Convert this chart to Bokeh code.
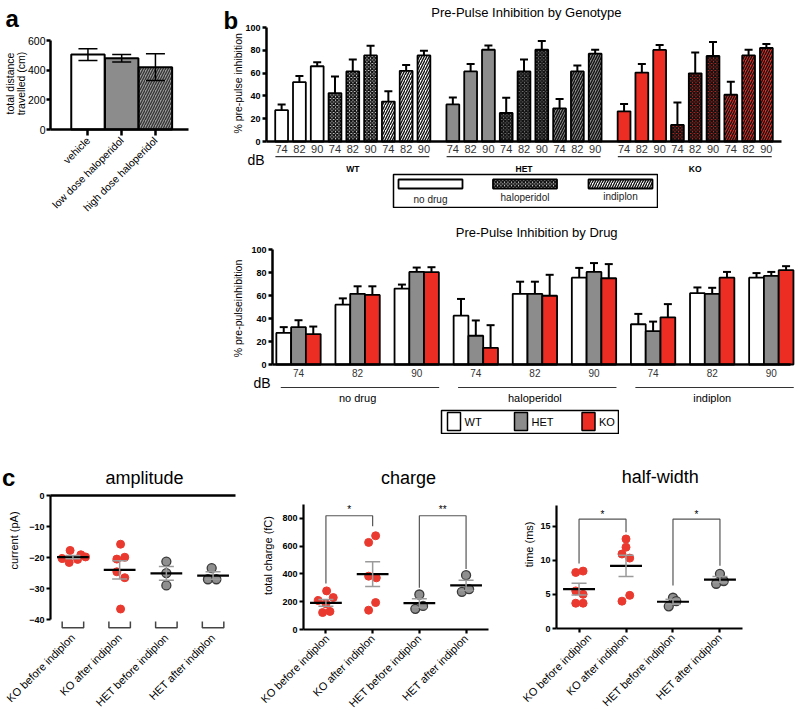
import numpy as np
from math import pi
from bokeh.plotting import figure
from bokeh.layouts import column, row
from bokeh.models import (Range1d, FixedTicker, Whisker, TeeHead, Label,
                          ColumnDataSource, Spacer)
from bokeh.core.properties import value
from bokeh.embed import file_html
from bokeh.resources import INLINE

FONT = "Liberation Sans"
RED = "#ec2d24"
GREY = "#8c8c8c"
DOT_RED = "#ea3a2f"
DOT_GREY = "#8f8f8f"

# ---------------- data ----------------
# panel a
a_groups = ["vehicle", "low dose haloperidol", "high dose haloperidol"]
a_mean = [505, 480, 420]
a_sem = [40, 25, 90]

# panel b (order: drug-major, dB-minor)
genotypes = ["WT", "HET", "KO"]
drugs = ["no drug", "haloperidol", "indiplon"]
db_levels = ["74", "82", "90"]
ppi_wt = [27.5, 52, 66, 42.5, 61.5, 75.5, 35, 62, 75.5]
ppi_wt_err = [5, 5.5, 3.5, 14.5, 10.5, 8.5, 9, 5, 4]
ppi_het = [32.5, 61.5, 80.5, 25, 61.5, 80.5, 29, 61.5, 77]
ppi_het_err = [6, 6.5, 3.8, 13.3, 10.5, 7.7, 8.3, 5.2, 3.5]
ppi_ko = [26.5, 60.5, 80.3, 14.5, 59.8, 75, 41, 75.5, 82]
ppi_ko_err = [6.5, 7.5, 4.3, 19.7, 18.2, 12.3, 11.5, 5, 3.5]

# panel c
c_groups = ["KO before indiplon", "KO after indiplon", "HET before indiplon", "HET after indiplon"]
amp_ko_before = [-17.7, -20.3, -21.6, -20.6, -19.1, -19.8]
amp_ko_after = [-15.7, -20.5, -19.9, -24.6, -26.5, -36.6]
amp_het_before = [-21.3, -25.0, -29.0]
amp_het_after = [-23.4, -27.0, -27.0]
charge_ko_before = [278, 209, 230, 185, 122, 130]
charge_ko_after = [675, 627, 384, 372, 194, 139]
charge_het_before = [252, 149, 170]
charge_het_after = [391, 271, 290]
hw_ko_before = [8.2, 8.4, 5.5, 5.0, 3.7, 3.7]
hw_ko_after = [13.1, 11.9, 10.9, 10.3, 4.85, 4.0]
hw_het_before = [4.5, 3.25, 4.0]
hw_het_after = [8.0, 6.55, 6.95]
# significance brackets: (left group, right group, top level, left end, right end, stars)
charge_sig = [(0, 1, 819, 331, 744, "*"), (2, 3, 819, 300, 435, "**")]
hw_sig = [(0, 1, 16.0, 9.5, 14.1, "*"), (2, 3, 16.0, 6.3, 9.2, "*")]

# point jitter (category units)
amp_jit = [[-0.06, -0.23, -0.08, 0.10, 0.17, 0.27], [0.02, -0.06, 0.11, -0.06, 0.11, 0.02],
           [0, 0, 0], [-0.03, -0.11, 0.07]]
charge_jit = [[0.015, -0.165, 0.157, 0, -0.071, 0.086], [0.064, -0.086, -0.086, 0.079, 0.064, -0.086],
              [0, -0.086, 0.079], [0, -0.09, 0.065]]
hw_jit = [[-0.07, 0.086, -0.07, 0.086, -0.07, 0.086], [0, 0, -0.086, 0.079, 0.079, -0.086],
          [0, -0.09, 0.07], [0, -0.08, 0.08]]


# ---------------- helpers ----------------
def mkfig(w, h, l, r, t, b, xr, yr):
    """Figure whose plotting frame fills the canvas; (xr, yr) map to the inner box
    inset by l, r, t, b pixels, the axes are fixed at the inner box edges."""
    sx = (w - l - r) / (xr[1] - xr[0])
    sy = (h - t - b) / (yr[1] - yr[0])
    p = figure(width=w, height=h,
               x_range=Range1d(xr[0] - l / sx, xr[1] + r / sx),
               y_range=Range1d(yr[0] - b / sy, yr[1] + t / sy),
               output_backend="svg", toolbar_location=None, tools="")
    p.min_border_left = p.min_border_right = 0
    p.min_border_top = p.min_border_bottom = 0
    p.grid.visible = False
    p.outline_line_color = None
    p.xaxis.fixed_location = yr[0]
    p.xaxis.bounds = xr
    p.yaxis.fixed_location = xr[0]
    p.yaxis.bounds = yr
    return p


def style_ax(ax, lw=2, tick_out=4, size="9px", bold=False, standoff=2):
    ax.axis_line_width = lw
    ax.axis_line_color = "black"
    ax.major_tick_line_width = lw
    ax.major_tick_line_color = "black"
    ax.major_tick_out = tick_out
    ax.major_tick_in = 0
    ax.minor_tick_line_color = None
    ax.major_label_text_font = FONT
    ax.major_label_text_font_size = size
    ax.major_label_text_font_style = "bold" if bold else "normal"
    ax.major_label_text_color = "black"
    ax.major_label_standoff = standoff


def add_label(p, x, y, text, size, bold=False, align="center", baseline="middle", angle=0.0,
              color="black"):
    p.add_layout(Label(x=x, y=y, text=text, text_font=FONT, text_font_size=size,
                       text_font_style="bold" if bold else "normal", text_align=align,
                       text_baseline=baseline, angle=angle, text_color=color))


# ---------------- panel a ----------------
pa = mkfig(195, 212, 50, 7, 40, 83, (-1.11, 2.98), (0, 600))
a_x = list(range(len(a_groups)))
pa.vbar(x=a_x[:2], top=a_mean[:2], width=0.99, fill_color=["white", GREY],
        line_color="black", line_width=2)
pa.vbar(x=a_x[2:], top=a_mean[2:], width=0.99, fill_color="#9a9a9a", line_color="black",
        line_width=2, hatch_pattern="right_diagonal_line", hatch_color="#333333",
        hatch_scale=5, hatch_weight=1.3)
a_src = ColumnDataSource(dict(x=a_x, lo=[m - s for m, s in zip(a_mean, a_sem)],
                              hi=[m + s for m, s in zip(a_mean, a_sem)]))
pa.add_layout(Whisker(source=a_src, base="x", lower="lo", upper="hi", line_width=1.5,
                      upper_head=TeeHead(size=19, line_width=1.5),
                      lower_head=TeeHead(size=19, line_width=1.5), level="overlay"))
style_ax(pa.xaxis[0], lw=2.5, tick_out=6, size="10.5px", standoff=3)
pa.xaxis.ticker = FixedTicker(ticks=a_x)
pa.xaxis.major_label_overrides = {i: g for i, g in zip(a_x, a_groups)}
pa.xaxis.major_label_orientation = pi / 4
style_ax(pa.yaxis[0], lw=2.5, tick_out=4, size="10.5px", standoff=1)
pa.yaxis.ticker = FixedTicker(ticks=[0, 200, 400, 600])
add_label(pa, -2.3, 310, "total distance", "10.5px", angle=pi / 2)
add_label(pa, -1.97, 310, "travelled (cm)", "10.5px", angle=pi / 2)
add_label(pa, -2.44, 748, "a", "24px", bold=True, align="left", baseline="alphabetic")

# ---------------- panel b top: by genotype ----------------
GAP = 9.625
g_fill = ["white", GREY, RED]
d_hatch = [None, "diagonal_cross", "right_diagonal_line"]
g_means = [ppi_wt, ppi_het, ppi_ko]
g_errs = [ppi_wt_err, ppi_het_err, ppi_ko_err]


def hatch_kw(di):
    if not d_hatch[di]:
        return {}
    if di == 1:
        return dict(hatch_pattern=d_hatch[di], hatch_color="#111111", hatch_scale=3.5,
                    hatch_weight=1.6)
    return dict(hatch_pattern=d_hatch[di], hatch_color="#111111", hatch_scale=5,
                hatch_weight=1.4)


pbt = mkfig(605, 173, 71, 19, 27, 32, (-0.85, 28.1), (0, 100))
tick_pos, tick_txt = [], {}
wx, wlo, whi = [], [], []
for gi in range(3):
    for di in range(3):
        xs = [gi * GAP + di * 3 + k for k in range(3)]
        vals = g_means[gi][di * 3:(di + 1) * 3]
        errs = g_errs[gi][di * 3:(di + 1) * 3]
        pbt.vbar(x=xs, top=vals, width=0.72, fill_color=g_fill[gi], line_color="black",
                 line_width=1.8, **hatch_kw(di))
        for x, v, e, lbl in zip(xs, vals, errs, db_levels):
            tick_pos.append(x)
            tick_txt[x] = lbl
            wx.append(x); wlo.append(v); whi.append(v + e)
bt_src = ColumnDataSource(dict(x=wx, lo=wlo, hi=whi))
pbt.add_layout(Whisker(source=bt_src, base="x", lower="lo", upper="hi", line_width=2,
                       upper_head=TeeHead(size=8, line_width=2), lower_head=None))
style_ax(pbt.xaxis[0], lw=2.5, tick_out=0, size="11px", standoff=3)
pbt.xaxis.ticker = FixedTicker(ticks=tick_pos)
pbt.xaxis.major_label_overrides = tick_txt
pbt.xaxis.major_label_text_color = "#333333"
style_ax(pbt.yaxis[0], lw=2.5, tick_out=4, size="9px", bold=True, standoff=2)
pbt.yaxis.ticker = FixedTicker(ticks=[0, 20, 40, 60, 80, 100])
add_label(pbt, -2.48, 51, "% pre-pulse inhibition", "10.5px", angle=pi / 2)
pbt.segment(x0=[gi * GAP - 0.35 for gi in range(3)], x1=[gi * GAP + 8.3 for gi in range(3)],
            y0=[-13.2] * 3, y1=[-13.2] * 3, line_color="#333333", line_width=1.2)
pbt.text(x=[gi * GAP + 4 for gi in range(3)], y=[-23.7] * 3, text=genotypes,
         text_font=value(FONT), text_font_size="8.5px", text_font_style="bold",
         text_align="center", text_baseline="middle")
add_label(pbt, -1.92, -15.8, "dB", "14px", align="left", baseline="alphabetic")
add_label(pbt, 13.76, 113, "Pre-Pulse Inhibition by Genotype", "13px")
add_label(pbt, -3.27, 106, "b", "24px", bold=True, align="left", baseline="alphabetic")

# legend 1 (drug)
leg1 = figure(width=266, height=35, x_range=Range1d(0, 264), y_range=Range1d(0, 33),
              output_backend="svg", toolbar_location=None, tools="")
leg1.min_border_left = leg1.min_border_right = leg1.min_border_top = leg1.min_border_bottom = 1
leg1.grid.visible = False
leg1.axis.visible = False
leg1.outline_line_color = "black"
leg1.outline_line_width = 1.5
sw_x = [37, 131.5, 227]
sw_ty = [8, 10, 11]
for di in range(3):
    leg1.rect(x=[sw_x[di]], y=[23.5], width=64, height=9, fill_color="white",
              line_color="black", line_width=1.8, **hatch_kw(di))
leg1.text(x=sw_x, y=sw_ty, text=drugs, text_font=value(FONT), text_font_size="10px",
          text_align="center", text_baseline="middle", text_color="#222222")

# ---------------- panel b bottom: by drug ----------------
pbb = mkfig(605, 194, 77, 10, 37, 42, (-0.44, 8.325), (0, 100))
bx, blo, bhi = [], [], []
for gi in range(3):
    xs = [k + (gi - 1) * 0.25 for k in range(9)]
    pbb.vbar(x=xs, top=g_means[gi], width=0.25, fill_color=g_fill[gi], line_color="black",
             line_width=1.8)
    bx += xs
    blo += g_means[gi]
    bhi += [m + e for m, e in zip(g_means[gi], g_errs[gi])]
bb_src = ColumnDataSource(dict(x=bx, lo=blo, hi=bhi))
pbb.add_layout(Whisker(source=bb_src, base="x", lower="lo", upper="hi", line_width=2,
                       upper_head=TeeHead(size=8, line_width=2), lower_head=None))
style_ax(pbb.xaxis[0], lw=2.5, tick_out=0, size="10px", standoff=4)
pbb.xaxis.ticker = FixedTicker(ticks=list(range(9)))
pbb.xaxis.major_label_overrides = {k: db_levels[k % 3] for k in range(9)}
pbb.xaxis.major_label_text_color = "#333333"
style_ax(pbb.yaxis[0], lw=2.5, tick_out=4, size="9px", bold=True, standoff=2)
pbb.yaxis.ticker = FixedTicker(ticks=[0, 20, 40, 60, 80, 100])
add_label(pbb, -1.032, 48.7, "% pre-pulseinhibition", "10.5px", angle=pi / 2)
pbb.segment(x0=[3 * di - 0.3 for di in range(3)], x1=[3 * di + 2.38 for di in range(3)],
            y0=[-20] * 3, y1=[-20] * 3, line_color="#333333", line_width=1.2)
pbb.text(x=[3 * di + 1 for di in range(3)], y=[-28.7] * 3, text=drugs,
         text_font=value(FONT), text_font_size="11px", text_align="center",
         text_baseline="middle")
add_label(pbb, -0.76, -15.7, "dB", "14px", align="left", baseline="alphabetic")
add_label(pbb, 4.03, 114.8, "Pre-Pulse Inhibition by Drug", "13px")

# legend 2 (genotype)
leg2 = figure(width=179, height=25, x_range=Range1d(0, 177), y_range=Range1d(0, 23),
              output_backend="svg", toolbar_location=None, tools="")
leg2.min_border_left = leg2.min_border_right = leg2.min_border_top = leg2.min_border_bottom = 1
leg2.grid.visible = False
leg2.axis.visible = False
leg2.outline_line_color = "black"
leg2.outline_line_width = 1.5
g_sw = [12.5, 79.5, 147]
leg2.rect(x=g_sw, y=[12] * 3, width=13, height=18, fill_color=g_fill, line_color="black",
          line_width=1.5)
leg2.text(x=[s + 10.5 for s in g_sw], y=[12] * 3, text=genotypes, text_font=value(FONT),
          text_font_size="11px", text_align="left", text_baseline="middle")


# ---------------- panel c ----------------
def dots(p, groups, jit):
    for i, (vals, jj) in enumerate(zip(groups, jit)):
        xs = [i + j for j in jj]
        if i < 2:
            p.scatter(x=xs, y=vals, size=8, fill_color=DOT_RED, line_color=DOT_RED)
        else:
            p.scatter(x=xs, y=vals, size=9, fill_color=DOT_GREY, line_color="#3a3a3a",
                      line_width=1.3)
    means = [float(np.mean(v)) for v in groups]
    sems = [float(np.std(v, ddof=1) / np.sqrt(len(v))) for v in groups]
    xs = list(range(len(groups)))
    src = ColumnDataSource(dict(x=xs, lo=[m - s for m, s in zip(means, sems)],
                                hi=[m + s for m, s in zip(means, sems)]))
    p.add_layout(Whisker(source=src, base="x", lower="lo", upper="hi", line_color="#9a9a9a",
                         line_width=1.5, level="overlay",
                         upper_head=TeeHead(size=15, line_color="#9a9a9a", line_width=1.5),
                         lower_head=TeeHead(size=15, line_color="#9a9a9a", line_width=1.5)))
    p.segment(x0=[x - 0.34 for x in xs], x1=[x + 0.34 for x in xs], y0=means, y1=means,
              line_color="black", line_width=2.2)


def sig(p, spec, star_dy):
    for a, b, top, ya, yb, s in spec:
        p.multi_line(xs=[[a, a, b, b]], ys=[[ya, top, top, yb]], line_color="#555555",
                     line_width=1.2)
        p.text(x=[(a + b) / 2], y=[top + star_dy], text=[s], text_font=value(FONT),
               text_font_size="10px", text_align="center", text_baseline="middle")


def cat_axis(p, standoff=3):
    style_ax(p.xaxis[0], lw=2.2, tick_out=4, size="11px", standoff=standoff)
    p.xaxis.ticker = FixedTicker(ticks=[0, 1, 2, 3])
    p.xaxis.major_label_overrides = {i: g for i, g in enumerate(c_groups)}
    p.xaxis.major_label_orientation = pi / 4


CX = (-0.48, 3.48)
# amplitude
c1 = mkfig(258, 270, 50, 23, 53, 81, CX, (-43.2, 0.65))
cat_axis(c1, standoff=4)
c1.xaxis.fixed_location = -42.6
c1.xaxis.axis_line_color = None
c1.xaxis.major_tick_line_color = None
style_ax(c1.yaxis[0], lw=2.2, tick_out=4, size="9px", bold=True, standoff=2)
c1.yaxis.ticker = FixedTicker(ticks=[-40, -30, -20, -10, 0])
c1.yaxis.bounds = (-40, 0)
c1.segment(x0=[CX[0]], x1=[CX[1]], y0=[0], y1=[0], line_width=2.5, line_color="black")
c1.multi_line(xs=[[i - 0.23, i - 0.23, i + 0.23, i + 0.23] for i in range(4)],
              ys=[[-40.6, -42.6, -42.6, -40.6]] * 4, line_color="#444444", line_width=1.5)
dots(c1, [amp_ko_before, amp_ko_after, amp_het_before, amp_het_after], amp_jit)
add_label(c1, -1.258, -14.5, "current (pA)", "11px", angle=pi / 2)
add_label(c1, 1.53, 5.8, "amplitude", "18px")
add_label(c1, -1.518, 5.8, "c", "24px", bold=True, align="left", baseline="alphabetic")

# charge
c2 = mkfig(262, 270, 45, 32, 64, 81, CX, (0, 900))
cat_axis(c2)
style_ax(c2.yaxis[0], lw=2.2, tick_out=4, size="9px", bold=True, standoff=2)
c2.yaxis.ticker = FixedTicker(ticks=[0, 200, 400, 600, 800])
sig(c2, charge_sig, 45)
dots(c2, [charge_ko_before, charge_ko_after, charge_het_before, charge_het_after], charge_jit)
add_label(c2, -1.237, 533, "total charge (fC)", "11px", angle=pi / 2)
add_label(c2, 1.77, 1094, "charge", "18px")

# half-width
c3 = mkfig(280, 270, 36, 58, 65, 82, CX, (0, 18))
cat_axis(c3)
style_ax(c3.yaxis[0], lw=2.2, tick_out=4, size="9px", bold=True, standoff=2)
c3.yaxis.ticker = FixedTicker(ticks=[0, 5, 10, 15])
sig(c3, hw_sig, 0.75)
dots(c3, [hw_ko_before, hw_ko_after, hw_het_before, hw_het_after], hw_jit)
add_label(c3, -1.064, 12.3, "time (ms)", "11px", angle=pi / 2)
add_label(c3, 1.73, 22.1, "half-width", "18px")

# ---------------- layout ----------------
top_row = row(pa, column(pbt, row(Spacer(width=197, height=35), leg1),
                         Spacer(width=10, height=4)))
mid_row = row(Spacer(width=195, height=228),
              column(pbb, Spacer(width=10, height=3), row(Spacer(width=245, height=25), leg2)))
bot_row = row(c1, c2, c3)
layout = column(top_row, mid_row, bot_row)

open("out.html", "w").write(file_html(layout, INLINE))
